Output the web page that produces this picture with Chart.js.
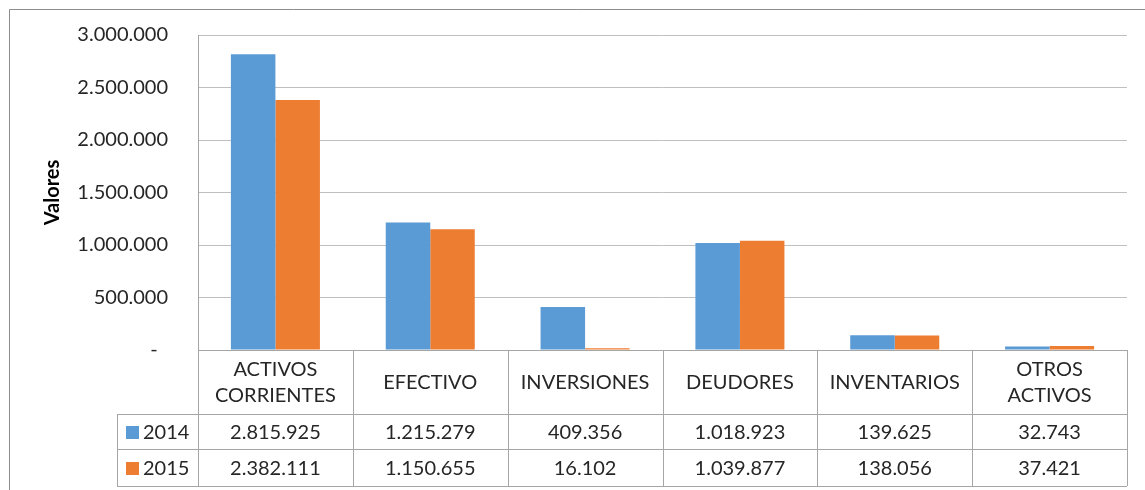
<!DOCTYPE html>
<html><head><meta charset="utf-8">
<script src="https://cdn.jsdelivr.net/npm/chart.js@4/dist/chart.umd.min.js"></script>
<style>html,body{margin:0;padding:0;background:#fff}#wrap{position:relative;width:1145px;height:490px}</style>
</head><body><div id="wrap"><canvas id="c" width="1145" height="490"></canvas></div>
<script>
const categories = [['ACTIVOS','CORRIENTES'], ['EFECTIVO'], ['INVERSIONES'], ['DEUDORES'], ['INVENTARIOS'], ['OTROS','ACTIVOS']];
const seriesNames = ['2014', '2015'];
const values2014 = [2815925, 1215279, 409356, 1018923, 139625, 32743];
const values2015 = [2382111, 1150655, 16102, 1039877, 138056, 37421];
const yTicks = [0, 500000, 1000000, 1500000, 2000000, 2500000, 3000000];

const FONT = 'Lato, "Open Sans", sans-serif';
const BLUE = '#5B9BD5', ORANGE = '#ED7D31';
const TXT = '#262626';

function fmt(v) {
  if (v === 0) return '-  ';
  return String(Math.round(v)).replace(/\B(?=(\d{3})+(?!\d))/g, '.');
}

const tablePlugin = {
  id: 'dataTable',
  afterDraw(chart) {
    const ctx = chart.ctx, x = chart.scales.x, ca = chart.chartArea;
    const n = categories.length;
    const cw = (ca.right - ca.left) / n;
    const yTop = Math.round(ca.bottom), yH = 414, yR1 = 449, yR2 = 486, xL = 117;
    ctx.save();
    ctx.strokeStyle = '#a6a6a6';
    ctx.lineWidth = 1;
    const line = (x1, y1, x2, y2) => { ctx.beginPath(); ctx.moveTo(x1, y1); ctx.lineTo(x2, y2); ctx.stroke(); };
    line(ca.left, yTop + 0.5, ca.right, yTop + 0.5);
    line(xL, yH + 0.5, ca.right, yH + 0.5);
    line(xL, yR1 + 0.5, ca.right, yR1 + 0.5);
    line(xL, yR2 + 0.5, ca.right, yR2 + 0.5);
    line(Math.round(ca.left) + 0.5, ca.top, Math.round(ca.left) + 0.5, yR2);
    for (let i = 1; i <= n; i++) {
      const xx = Math.round(ca.left + i * cw) + 0.5;
      line(xx, yTop, xx, yR2);
    }
    line(xL + 0.5, yH, xL + 0.5, yR2);
    ctx.fillStyle = TXT;
    ctx.font = '20px ' + FONT;
    ctx.textAlign = 'center';
    ctx.textBaseline = 'middle';
    categories.forEach((lab, i) => {
      const cx = x.getPixelForValue(i);
      const mid = (yTop + yH) / 2 + 1;
      const lh = 26;
      lab.forEach((t, j) => {
        ctx.fillText(t, cx, mid + (j - (lab.length - 1) / 2) * lh);
      });
    });
    const rows = [values2014, values2015];
    const cols = [BLUE, ORANGE];
    const rowMid = [(yH + yR1) / 2, (yR1 + yR2) / 2];
    rows.forEach((vals, r) => {
      vals.forEach((v, i) => {
        ctx.textAlign = 'center';
        ctx.fillText(fmt(v), x.getPixelForValue(i), rowMid[r] + 1);
      });
      ctx.fillStyle = cols[r];
      ctx.fillRect(126, Math.round(rowMid[r] - 6), 13, 13);
      ctx.fillStyle = TXT;
      ctx.textAlign = 'left';
      ctx.fillText(seriesNames[r], 143, rowMid[r] + 1);
    });
    ctx.strokeStyle = '#8c8c8c';
    line(9.5, 9.5, 1145, 9.5);
    line(9.5, 9.5, 9.5, 490);
    ctx.restore();
  }
};

new Chart(document.getElementById('c'), {
  type: 'bar',
  data: {
    labels: categories,
    datasets: [
      { label: seriesNames[0], data: values2014, backgroundColor: BLUE, categoryPercentage: 0.575, barPercentage: 1.0 },
      { label: seriesNames[1], data: values2015, backgroundColor: ORANGE, categoryPercentage: 0.575, barPercentage: 1.0 }
    ]
  },
  options: {
    responsive: false,
    animation: false,
    devicePixelRatio: 1,
    layout: { padding: { left: 37, right: 18, top: 35, bottom: 0 } },
    plugins: { legend: { display: false }, tooltip: { enabled: false } },
    scales: {
      x: {
        ticks: { display: false },
        grid: { display: false },
        border: { display: false },
        afterFit(s) { s.height = 140; s.paddingLeft = 0; s.paddingRight = 0; }
      },
      y: {
        min: 0, max: 3000000,
        afterBuildTicks(s) { s.ticks = yTicks.map(v => ({ value: v })); },
        ticks: { color: TXT, font: { family: FONT, size: 20 }, padding: 30, callback: v => fmt(v) },
        grid: { color: '#bfbfbf', lineWidth: 1, drawTicks: false },
        border: { display: false },
        title: { display: true, text: 'Valores', color: '#000', font: { family: FONT, size: 20, weight: 'bold' }, padding: { top: 4, bottom: 4 } },
        afterFit(s) { s.width = 161; s.paddingTop = 0; s.paddingBottom = 0; }
      }
    }
  },
  plugins: [tablePlugin]
});
</script></body></html>
